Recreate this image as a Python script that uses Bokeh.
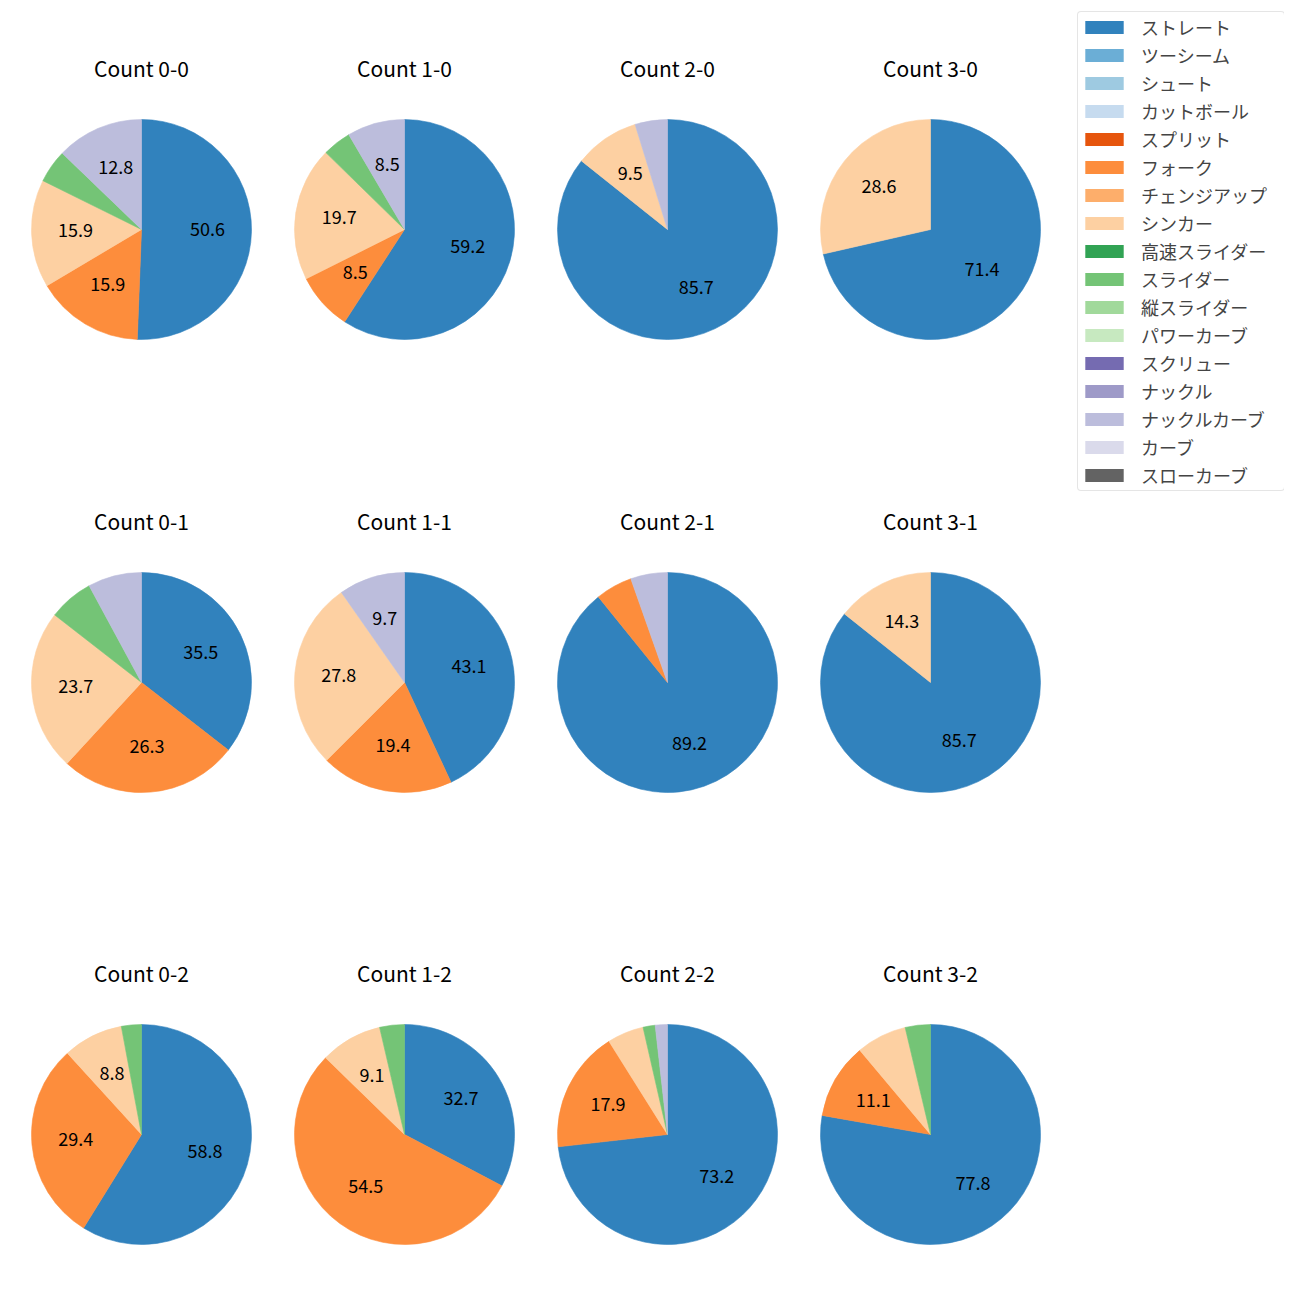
import numpy as np
from bokeh.plotting import figure
from bokeh.models import ColumnDataSource, Legend, LegendItem, Range1d
from bokeh.core.properties import value
from bokeh.embed import file_html
from bokeh.resources import INLINE

pitch_types = ["ストレート", "ツーシーム", "シュート", "カットボール", "スプリット", "フォーク",
               "チェンジアップ", "シンカー", "高速スライダー", "スライダー", "縦スライダー",
               "パワーカーブ", "スクリュー", "ナックル", "ナックルカーブ", "カーブ", "スローカーブ"]
colors = ["#3182bd", "#6baed6", "#9ecae1", "#c6dbef", "#e6550d", "#fd8d3c", "#fdae6b",
          "#fdd0a2", "#31a354", "#74c476", "#a1d99b", "#c7e9c0", "#756bb1", "#9e9ac8",
          "#bcbddc", "#dadaeb", "#636363"]

count_labels = ["0-0", "1-0", "2-0", "3-0",
                "0-1", "1-1", "2-1", "3-1",
                "0-2", "1-2", "2-2", "3-2"]

# pitch counts per ball-strike count, ordered as pitch_types
#        Str 2S Sht Cut Spl Frk Chg Snk HSl Sl VSl PC Scr Kn KnC Cv SCv
n_0_0 = [83, 0, 0, 0, 0, 26, 0, 26, 0, 8, 0, 0, 0, 0, 21, 0, 0]
n_1_0 = [42, 0, 0, 0, 0, 6, 0, 14, 0, 3, 0, 0, 0, 0, 6, 0, 0]
n_2_0 = [18, 0, 0, 0, 0, 0, 0, 2, 0, 0, 0, 0, 0, 0, 1, 0, 0]
n_3_0 = [5, 0, 0, 0, 0, 0, 0, 2, 0, 0, 0, 0, 0, 0, 0, 0, 0]
n_0_1 = [27, 0, 0, 0, 0, 20, 0, 18, 0, 5, 0, 0, 0, 0, 6, 0, 0]
n_1_1 = [31, 0, 0, 0, 0, 14, 0, 20, 0, 0, 0, 0, 0, 0, 7, 0, 0]
n_2_1 = [33, 0, 0, 0, 0, 2, 0, 0, 0, 0, 0, 0, 0, 0, 2, 0, 0]
n_3_1 = [6, 0, 0, 0, 0, 0, 0, 1, 0, 0, 0, 0, 0, 0, 0, 0, 0]
n_0_2 = [20, 0, 0, 0, 0, 10, 0, 3, 0, 1, 0, 0, 0, 0, 0, 0, 0]
n_1_2 = [18, 0, 0, 0, 0, 30, 0, 5, 0, 2, 0, 0, 0, 0, 0, 0, 0]
n_2_2 = [41, 0, 0, 0, 0, 10, 0, 3, 0, 1, 0, 0, 0, 0, 1, 0, 0]
n_3_2 = [21, 0, 0, 0, 0, 3, 0, 2, 0, 1, 0, 0, 0, 0, 0, 0, 0]

all_counts = [n_0_0, n_1_0, n_2_0, n_3_0,
              n_0_1, n_1_1, n_2_1, n_3_1,
              n_0_2, n_1_2, n_2_2, n_3_2]

# layout (pixel space of the canvas, y measured from top)
W = H = 1284
COL_X = [141, 404, 667, 930]
ROW_Y = [229, 682, 1134]
TITLE_DY = 161
RADIUS = 110
LABEL_FRAC = 0.6
LABEL_MIN = 8.0
FONT = "Noto Sans CJK JP"

p = figure(width=W, height=H, x_range=Range1d(0, W), y_range=Range1d(0, H),
           x_axis_type=None, y_axis_type=None, toolbar_location=None,
           output_backend="svg", min_border=0, outline_line_color=None)
p.background_fill_color = "white"
p.border_fill_color = "white"

wedge_data = {k: dict(x=[], y=[], s=[], e=[]) for k in range(len(pitch_types))}
lab_x, lab_y, lab_t = [], [], []
tit_x, tit_y, tit_t = [], [], []

for i, (cl, cnts) in enumerate(zip(count_labels, all_counts)):
    cx = COL_X[i % 4]
    cy = H - ROW_Y[i // 4]
    vals = np.array(cnts, dtype=float)
    frac = vals / vals.sum()
    cum = 0.0
    for k, f in enumerate(frac):
        if f <= 0:
            continue
        a_end = np.deg2rad(90 - 360 * cum)
        a_start = np.deg2rad(90 - 360 * (cum + f))
        wd = wedge_data[k]
        wd["x"].append(cx); wd["y"].append(cy)
        wd["s"].append(a_start); wd["e"].append(a_end)
        pct = f * 100
        if pct >= LABEL_MIN:
            mid = np.deg2rad(90 - 360 * (cum + f / 2))
            lab_x.append(cx + LABEL_FRAC * RADIUS * np.cos(mid))
            lab_y.append(cy + LABEL_FRAC * RADIUS * np.sin(mid))
            lab_t.append(f"{pct:.1f}")
        cum += f
    tit_x.append(cx)
    tit_y.append(cy + TITLE_DY)
    tit_t.append(f"Count {cl}")

for k, c in enumerate(colors):
    wd = wedge_data[k]
    if wd["x"]:
        p.wedge(x="x", y="y", radius=RADIUS, start_angle="s", end_angle="e",
                source=ColumnDataSource(wd), fill_color=c, line_color=c, line_width=0.6)

p.text(x=lab_x, y=lab_y, text=lab_t, text_align="center", text_baseline="middle",
       y_offset=-2, text_font=value(FONT), text_font_size="18px", text_color="black")
p.text(x=tit_x, y=tit_y, text=tit_t, text_align="center", text_baseline="middle",
       y_offset=-1, text_font=value(FONT), text_font_size="21px", text_color="black")

items = []
for name, c in zip(pitch_types, colors):
    r = p.rect(x=[np.nan], y=[np.nan], width=1, height=1, fill_color=c, line_color=None)
    items.append(LegendItem(label=name, renderers=[r]))

legend = Legend(items=items, location=(1077, 793), margin=0, padding=2, spacing=2,
                glyph_width=48, glyph_height=16, label_height=20, label_width=141,
                label_standoff=13,
                label_text_font=FONT, label_text_font_size="18px",
                label_text_baseline="middle",
                border_line_color="#cccccc", border_line_width=1,
                background_fill_color="white", background_fill_alpha=0.8)
if "border_radius" in Legend.properties():
    legend.border_radius = 4
p.add_layout(legend)

open("out.html", "w").write(file_html(p, INLINE))
